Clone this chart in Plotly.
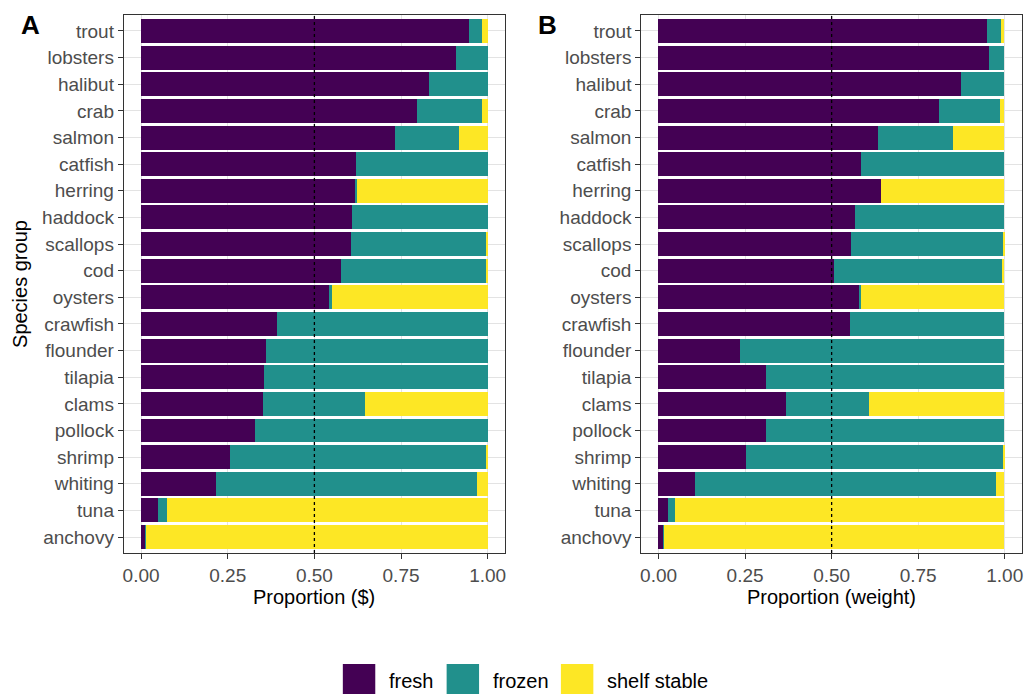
import plotly.graph_objects as go

# Species groups, top to bottom
species = ["trout", "lobsters", "halibut", "crab", "salmon", "catfish", "herring",
           "haddock", "scallops", "cod", "oysters", "crawfish", "flounder", "tilapia",
           "clams", "pollock", "shrimp", "whiting", "tuna", "anchovy"]

# Panel A: share of expenditure ($)
fresh_usd = [0.945, 0.909, 0.831, 0.796, 0.733, 0.618, 0.619, 0.609, 0.604, 0.575,
             0.542, 0.392, 0.359, 0.353, 0.352, 0.329, 0.257, 0.215, 0.048, 0.012]
frozen_usd = [0.037, 0.091, 0.169, 0.188, 0.184, 0.382, 0.002, 0.391, 0.393, 0.420,
              0.009, 0.608, 0.641, 0.647, 0.294, 0.671, 0.736, 0.754, 0.027, 0.002]
shelf_usd = [0.018, 0.000, 0.000, 0.016, 0.083, 0.000, 0.379, 0.000, 0.003, 0.005,
             0.449, 0.000, 0.000, 0.000, 0.354, 0.000, 0.007, 0.031, 0.925, 0.986]

# Panel B: share of weight
fresh_wt = [0.949, 0.955, 0.874, 0.810, 0.635, 0.586, 0.644, 0.568, 0.558, 0.507,
            0.582, 0.554, 0.235, 0.311, 0.369, 0.311, 0.252, 0.106, 0.027, 0.014]
frozen_wt = [0.041, 0.045, 0.126, 0.176, 0.215, 0.414, 0.000, 0.432, 0.440, 0.488,
             0.003, 0.446, 0.765, 0.689, 0.239, 0.689, 0.746, 0.870, 0.021, 0.003]
shelf_wt = [0.010, 0.000, 0.000, 0.014, 0.150, 0.000, 0.356, 0.000, 0.002, 0.005,
            0.415, 0.000, 0.000, 0.000, 0.392, 0.000, 0.002, 0.024, 0.952, 0.983]

forms = ["fresh", "frozen", "shelf stable"]
colors = {"fresh": "#440154", "frozen": "#21908C", "shelf stable": "#FDE725"}

x_ticks = [0, 0.25, 0.5, 0.75, 1.0]
x_ticktext = ["0.00", "0.25", "0.50", "0.75", "1.00"]

W, H = 1027, 694
FONT = "Liberation Sans, Arial, sans-serif"

fig = go.Figure()

panels = [
    ("x", "y", [fresh_usd, frozen_usd, shelf_usd]),
    ("x2", "y2", [fresh_wt, frozen_wt, shelf_wt]),
]
for xa, ya, series in panels:
    for form, vals in zip(forms, series):
        fig.add_trace(go.Bar(
            x=vals, y=species, orientation="h", xaxis=xa, yaxis=ya,
            name=form, marker=dict(color=colors[form], line=dict(width=0)),
            width=0.9, showlegend=False,
        ))

# Plot-area geometry in pixels
ax_a = (123, 505)
ax_b = (641.5, 1023)
top_px, bot_px = 15, 553
y_dom = [1 - bot_px / H, 1 - top_px / H]

axis_common = dict(
    showline=True, mirror=True, linecolor="#333333", linewidth=1,
    ticks="outside", ticklen=5, tickcolor="#333333", tickwidth=1,
    tickfont=dict(family=FONT, size=19, color="#4D4D4D"),
    showgrid=True, gridcolor="#E3E3E3", gridwidth=1, zeroline=False,
)
x_common = dict(axis_common, range=[-0.05, 1.05], tickvals=x_ticks, ticktext=x_ticktext)
y_common = dict(axis_common, type="category",
                categoryorder="array", categoryarray=list(reversed(species)),
                range=[-0.6, 19.6])

fig.update_layout(
    width=W, height=H,
    margin=dict(l=0, r=0, t=0, b=0),
    paper_bgcolor="white", plot_bgcolor="white",
    barmode="stack", bargap=0,
    font=dict(family=FONT, size=20, color="black"),
    xaxis=dict(x_common, domain=[ax_a[0] / W, ax_a[1] / W], anchor="y"),
    yaxis=dict(y_common, domain=y_dom, anchor="x"),
    xaxis2=dict(x_common, domain=[ax_b[0] / W, ax_b[1] / W], anchor="y2"),
    yaxis2=dict(y_common, domain=y_dom, anchor="x2"),
)

# Dotted reference line at one half
for xr, yr in [("x", "y domain"), ("x2", "y2 domain")]:
    fig.add_shape(type="line", xref=xr, yref=yr, x0=0.5, x1=0.5, y0=0, y1=1,
                  line=dict(color="black", width=1.3, dash="dot"), layer="above")

annotations = []
# Axis titles
annotations.append(dict(x=(ax_a[0] + ax_a[1]) / 2 / W, y=1 - 597 / H, xref="paper", yref="paper",
                        text="Proportion ($)", showarrow=False, xanchor="center", yanchor="middle",
                        font=dict(family=FONT, size=20, color="black")))
annotations.append(dict(x=(ax_b[0] + ax_b[1]) / 2 / W, y=1 - 597 / H, xref="paper", yref="paper",
                        text="Proportion (weight)", showarrow=False, xanchor="center", yanchor="middle",
                        font=dict(family=FONT, size=20, color="black")))
annotations.append(dict(x=19 / W, y=1 - 284 / H, xref="paper", yref="paper",
                        text="Species group", showarrow=False, textangle=-90,
                        xanchor="center", yanchor="middle",
                        font=dict(family=FONT, size=20, color="black")))
# Panel tags
for tag, px in [("A", 30), ("B", 548)]:
    annotations.append(dict(x=px / W, y=1 - 25 / H, xref="paper", yref="paper",
                            text=f"<b>{tag}</b>", showarrow=False, xanchor="center", yanchor="middle",
                            font=dict(family=FONT, size=26, color="black")))

# Legend along the bottom
legend_items = [("fresh", 342.5, 387), ("frozen", 446.5, 491), ("shelf stable", 561, 605)]
for form, key_x, text_x in legend_items:
    fig.add_shape(type="rect", xref="paper", yref="paper",
                  x0=key_x / W, x1=(key_x + 32.5) / W,
                  y0=1 - 697 / H, y1=1 - 664 / H,
                  fillcolor=colors[form], line=dict(width=0), layer="above")
    annotations.append(dict(x=text_x / W, y=1 - 681 / H, xref="paper", yref="paper",
                            text=form, showarrow=False, xanchor="left", yanchor="middle",
                            font=dict(family=FONT, size=20, color="black")))

fig.update_layout(annotations=annotations)

fig.write_html("out.html")
